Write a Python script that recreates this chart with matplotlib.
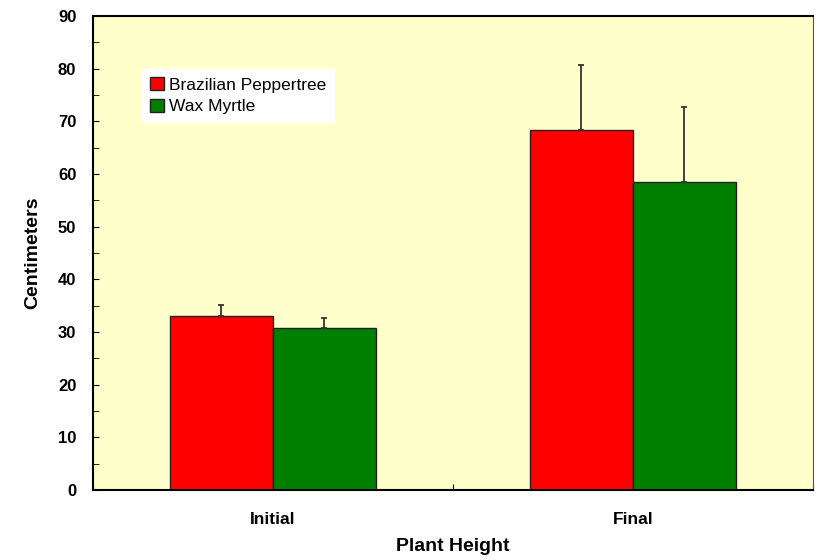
import matplotlib.pyplot as plt
import numpy as np

plt.rcParams['font.family'] = ['Liberation Sans', 'DejaVu Sans']

categories = ["Initial", "Final"]
series = ["Brazilian Peppertree", "Wax Myrtle"]
peppertree = [33.0, 68.4]
peppertree_err = [2.1, 12.3]
myrtle = [30.8, 58.5]
myrtle_err = [1.9, 14.2]

colors = ["#FF0000", "#008000"]

fig = plt.figure(figsize=(8.17, 5.6), dpi=100)
ax = fig.add_axes([0.1138, 0.125, 0.8812, 0.8464])
ax.set_facecolor("#FFFFCC")

x = np.arange(len(categories)) + 0.5
w = 0.286

for i, (vals, errs) in enumerate([(peppertree, peppertree_err), (myrtle, myrtle_err)]):
    pos = x + (i - 0.5) * w
    ax.bar(pos, vals, width=w, color=colors[i], edgecolor="#222222",
           linewidth=1, label=series[i], zorder=2)
    ax.errorbar(pos, vals, yerr=[np.zeros(len(errs)), errs], fmt="none",
                ecolor="#333333", elinewidth=1.3, capsize=2.5, capthick=1.3, zorder=3)

ax.set_xlim(0, 2)
ax.set_ylim(0, 90)
ax.set_yticks(np.arange(0, 91, 10))
ax.set_yticks(np.arange(5, 90, 10), minor=True)
ax.set_xticks([0, 1, 2])
ax.set_xticklabels([])
ax.set_xticks(x, minor=True)
ax.set_xticklabels(categories, minor=True, fontsize=12.5, fontweight="bold")
ax.tick_params(axis="x", which="minor", length=0, pad=16)
ax.tick_params(axis="x", which="major", direction="in", length=4)
ax.tick_params(axis="y", which="both", direction="in", length=4, labelsize=12, pad=12)
for lab in ax.get_yticklabels():
    lab.set_fontweight("bold")

ax.set_ylabel("Centimeters", fontsize=14, fontweight="bold", labelpad=12)
ax.set_xlabel("Plant Height", fontsize=14, fontweight="bold", labelpad=8)

ax.spines["left"].set_linewidth(1.5)
ax.spines["bottom"].set_linewidth(1.5)
ax.spines["top"].set_linewidth(1.5)
ax.spines["right"].set_color("#555555")

leg = ax.legend(loc="upper left", bbox_to_anchor=(0.068, 0.888), frameon=True,
                fancybox=False, edgecolor="white", framealpha=1, fontsize=12.5,
                handlelength=0.8, handleheight=0.8, handletextpad=0.3,
                borderpad=0.45, labelspacing=0.35, borderaxespad=0)

fig.savefig("out.png", dpi=100)
